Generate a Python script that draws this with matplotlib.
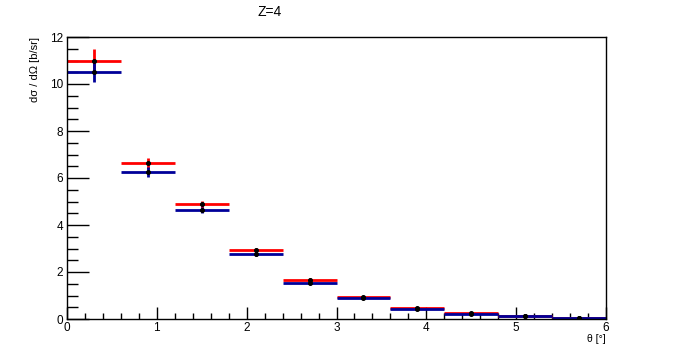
import matplotlib
matplotlib.use("Agg")
import matplotlib.pyplot as plt
from matplotlib.ticker import MultipleLocator
import numpy as np

plt.rcParams['font.family'] = ['Liberation Sans', 'DejaVu Sans']

bin_edges = [0.0, 0.6, 1.2, 1.8, 2.4, 3.0, 3.6, 4.2, 4.8, 5.4, 6.0]
red_vals = [11.0, 6.63, 4.88, 2.93, 1.67, 0.93, 0.46, 0.26, 0.13, 0.05]
red_err = [0.5, 0.24, 0.15, 0.10, 0.06, 0.04, 0.02, 0.015, 0.01, 0.005]
blue_vals = [10.5, 6.25, 4.63, 2.76, 1.55, 0.88, 0.44, 0.22, 0.11, 0.04]
blue_err = [0.4, 0.2, 0.13, 0.09, 0.05, 0.03, 0.02, 0.012, 0.008, 0.004]

title = "Z=4"
xlabel = "θ [°]"
ylabel = "dσ / dΩ [b/sr]"

edges = np.array(bin_edges)
centers = 0.5 * (edges[:-1] + edges[1:])
halfw = 0.5 * (edges[1:] - edges[:-1])

fig = plt.figure(figsize=(6.73, 3.55), dpi=100)
ax = fig.add_axes([67/673, 1-319/355, (606-67)/673, (319-37)/355])

for vals, errs, col in [(red_vals, red_err, '#ff0000'), (blue_vals, blue_err, '#000099')]:
    ax.errorbar(centers, vals, xerr=halfw, yerr=errs, fmt='none', ecolor=col,
                elinewidth=2.0, capsize=0, zorder=2)
    ax.plot(centers, vals, 'o', color='black', ms=2.6, zorder=3)

ax.set_xlim(0, 6)
ax.set_ylim(0, 12)
ax.xaxis.set_major_locator(MultipleLocator(1))
ax.xaxis.set_minor_locator(MultipleLocator(0.2))
ax.yaxis.set_major_locator(MultipleLocator(2))
ax.yaxis.set_minor_locator(MultipleLocator(0.5))
ax.tick_params(axis='both', which='both', direction='in', top=False, right=False,
               labelsize=8.5, color='black')
ax.tick_params(axis='y', which='major', length=16, width=1, pad=3)
ax.tick_params(axis='y', which='minor', length=8, width=1)
ax.tick_params(axis='x', which='major', length=8.5, width=1, pad=2)
ax.tick_params(axis='x', which='minor', length=4.5, width=1)
for s in ax.spines.values():
    s.set_linewidth(1)
    s.set_color('black')

fig.text(606/673, 1-339/355, xlabel, ha='right', va='center', fontsize=7.5)
fig.text(35/673, 1-37/355, ylabel, ha='center', va='top', rotation=90, fontsize=8)
fig.text(270/673, 1-12/355, title, ha='center', va='center', fontsize=10)

fig.savefig("out.png", dpi=100)
